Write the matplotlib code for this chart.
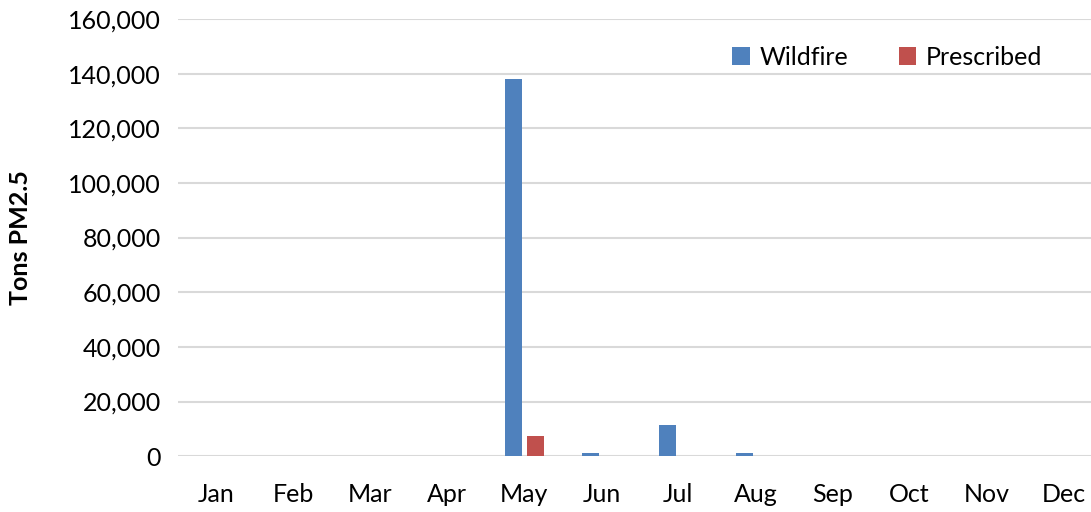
import matplotlib.pyplot as plt
import numpy as np

months = ["Jan", "Feb", "Mar", "Apr", "May", "Jun",
          "Jul", "Aug", "Sep", "Oct", "Nov", "Dec"]
wildfire = [0, 0, 0, 0, 138000, 1200, 11300, 1300, 0, 0, 0, 0]
prescribed = [0, 0, 0, 0, 7300, 0, 0, 0, 0, 0, 0, 0]
yticks = [0, 20000, 40000, 60000, 80000, 100000, 120000, 140000, 160000]

plt.rcParams["font.family"] = ["Lato", "DejaVu Sans"]

fig = plt.figure(figsize=(10.91, 5.12), dpi=100)
ax = fig.add_axes([0.163, 0.109, 0.847, 0.854])

x = np.arange(len(months))
w = 0.225
ax.bar(x - 0.145, wildfire, w, color="#4F81BD", label="Wildfire", zorder=3)
ax.bar(x + 0.145, prescribed, w, color="#C0504D", label="Prescribed", zorder=3)

ax.set_xlim(-0.5, 11.5)
ax.set_ylim(0, 160000)
ax.set_yticks(yticks)
ax.set_yticklabels([f"{v:,}" for v in yticks])
ax.set_xticks(x)
ax.set_xticklabels(months)
ax.tick_params(axis="both", length=0, labelsize=18, colors="black")
ax.tick_params(axis="x", pad=19)
ax.tick_params(axis="y", pad=12)
ax.grid(axis="y", color="#D9D9D9", linewidth=1.5, zorder=0)
for s in ax.spines.values():
    s.set_visible(False)
ax.set_axisbelow(True)

ax.set_ylabel("Tons PM2.5", fontsize=18, fontweight="bold", labelpad=26)

ax.legend(loc="upper right", bbox_to_anchor=(0.96, 0.99), ncol=2, frameon=False,
          fontsize=18, handlelength=0.7, handleheight=0.7, columnspacing=2.0,
          handletextpad=0.4)

plt.savefig("out.png", dpi=100)
